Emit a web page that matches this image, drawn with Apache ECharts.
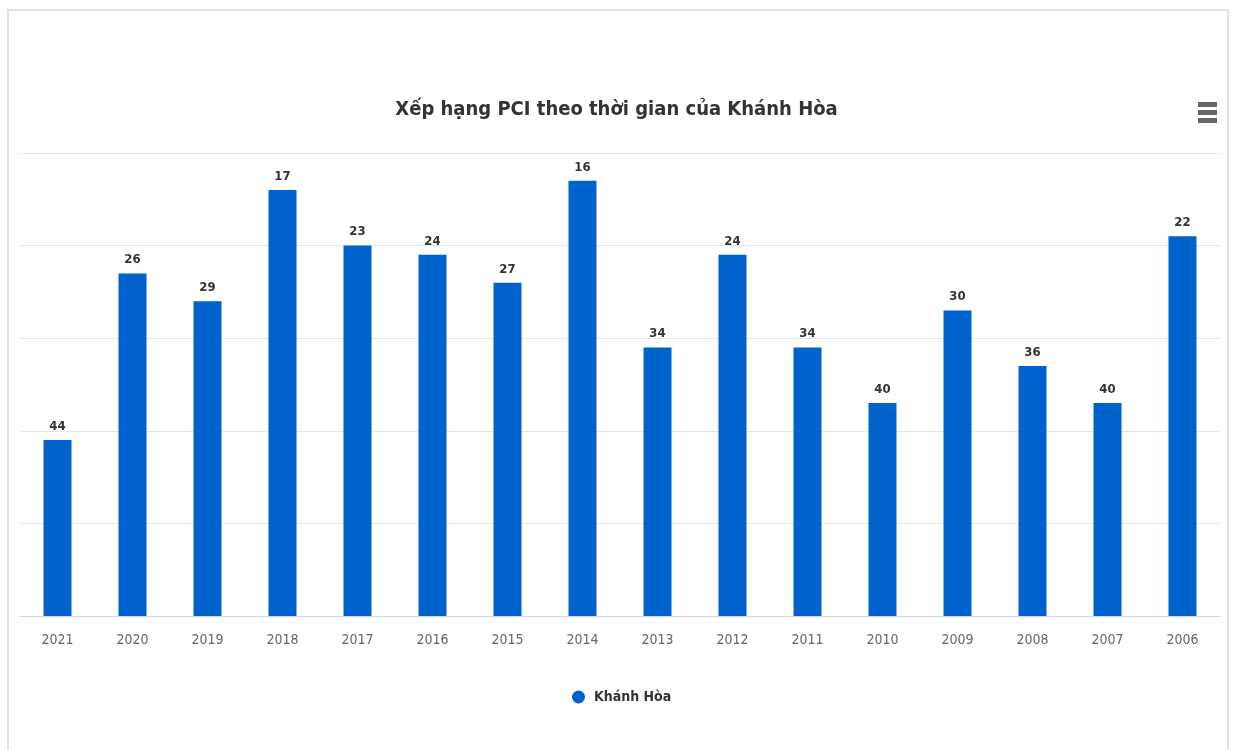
<!DOCTYPE html>
<html>
<head>
<meta charset="utf-8">
<script src="https://cdn.jsdelivr.net/npm/echarts@6/dist/echarts.min.js"></script>
<style>
html,body{margin:0;padding:0;background:#fff;}
#frame{position:absolute;left:7px;top:9px;width:1222px;height:760px;border:2px solid #e3e3e3;box-sizing:border-box;}
#chart{position:absolute;left:0;top:0;width:1233px;height:750px;}
</style>
</head>
<body>
<div id="frame"></div>
<div id="chart"></div>
<script>
var years = ['2021','2020','2019','2018','2017','2016','2015','2014','2013','2012','2011','2010','2009','2008','2007','2006'];
var ranks = [44, 26, 29, 17, 23, 24, 27, 16, 34, 24, 34, 40, 30, 36, 40, 22];
var totalProvinces = 63;
var seriesName = 'Khánh Hòa';
var titleText = 'Xếp hạng PCI theo thời gian của Khánh Hòa';

var FONT = '"Liberation Sans Narrow","DejaVu Sans Condensed","Liberation Sans",Arial,sans-serif';
var chart = echarts.init(document.getElementById('chart'));
var barData = ranks.map(function (r) { return { value: totalProvinces - r, rank: r }; });

chart.setOption({
  animation: false,
  title: {
    text: titleText,
    left: 'center',
    top: 95,
    textStyle: { fontFamily: FONT, fontSize: 20, fontWeight: 'bold', color: '#333' }
  },
  legend: {
    data: [seriesName],
    left: 567,
    top: 685,
    icon: 'circle',
    itemWidth: 13,
    itemHeight: 13,
    itemGap: 8,
    textStyle: { fontFamily: FONT, fontSize: 14, fontWeight: 'bold', color: '#333', padding: [0, 0, 0, 4] }
  },
  grid: { left: 20, right: 13, top: 153, bottom: 134, containLabel: false },
  xAxis: {
    type: 'category',
    data: years,
    axisLine: { lineStyle: { color: '#ccd6eb', width: 1 } },
    axisTick: { show: false },
    axisLabel: { fontFamily: FONT, fontSize: 14, color: '#666', margin: 17 }
  },
  yAxis: {
    type: 'value',
    min: 0,
    max: 50,
    interval: 10,
    axisLabel: { show: false },
    axisLine: { show: false },
    axisTick: { show: false },
    splitLine: { lineStyle: { color: '#e6e6e6', width: 1 } }
  },
  graphic: [
    { type: 'rect', shape: { x: 1198, y: 102, width: 19, height: 5 }, style: { fill: '#666' } },
    { type: 'rect', shape: { x: 1198, y: 110, width: 19, height: 5 }, style: { fill: '#666' } },
    { type: 'rect', shape: { x: 1198, y: 118, width: 19, height: 5 }, style: { fill: '#666' } }
  ],
  series: [{
    name: seriesName,
    type: 'bar',
    data: barData,
    barWidth: 28,
    itemStyle: { color: '#0062cc' },
    label: {
      show: true,
      position: 'top',
      distance: 7,
      fontFamily: FONT,
      fontSize: 13,
      fontWeight: 'bold',
      color: '#333',
      formatter: function (p) { return p.data.rank; }
    }
  }]
});
</script>
</body>
</html>
